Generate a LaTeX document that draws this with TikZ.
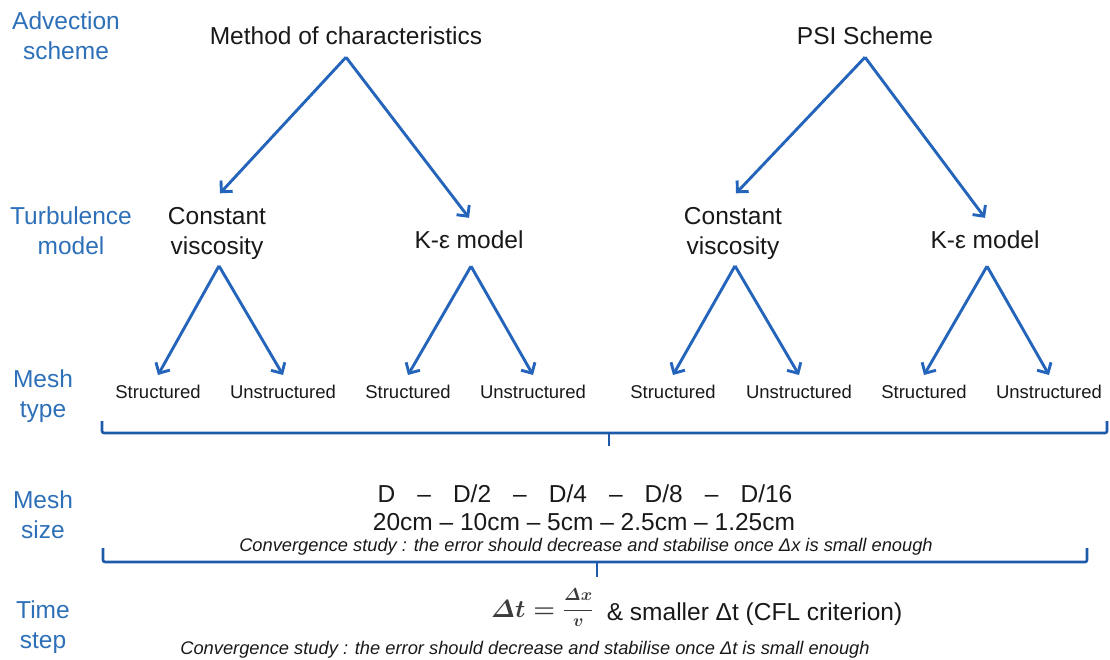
\documentclass[tikz,border=0pt]{standalone}
\usepackage{amsmath}
\usepackage{fontspec}
\setmainfont{Liberation Sans}
\usetikzlibrary{arrows.meta}
\definecolor{arrblue}{RGB}{36,100,186}
\definecolor{lblblue}{RGB}{46,112,184}
\definecolor{brblue}{RGB}{30,90,170}
\definecolor{txtblack}{RGB}{25,25,25}
\definecolor{mathgray}{RGB}{60,60,60}
\tikzstyle{rowlabel} = [text=lblblue, align=center, inner sep=0pt, font=\fontsize{24.5}{30}\selectfont]
\tikzstyle{branchnode} = [text=txtblack, align=center, inner sep=0pt, font=\fontsize{24.5}{30}\selectfont]
\tikzstyle{leafnode} = [text=txtblack, inner sep=0pt, font=\fontsize{18.5}{22}\selectfont]
\tikzstyle{notetext} = [text=txtblack, inner sep=0pt, font=\fontsize{18.3}{22}\selectfont\itshape]
\tikzstyle{branch} = [draw=arrblue, line width=2.9pt, -{Straight Barb[length=8pt,width=16pt]}]
\tikzstyle{bracketline} = [draw=brblue, line width=2.6pt, rounded corners=2pt]
\begin{document}
\begin{tikzpicture}[x=1pt,y=-1pt]
\useasboundingbox (0,0) rectangle (1110,660);

% Row labels
    \node[rowlabel] (adv) at (66,36) {Advection\\scheme};
    \node[rowlabel] (turb) at (71,231) {Turbulence\\model};
    \node[rowlabel] (mtype) at (43,396) {Mesh\\type};
    \node[rowlabel] (msize) at (43,515) {Mesh\\size};
    \node[rowlabel] (tstep) at (43,627) {Time\\step};

% Advection schemes and turbulence models
    \node[branchnode, anchor=base] (moc) at (346,44.8) {Method of characteristics};
    \node[branchnode, anchor=base] (psi) at (865,44.8) {PSI Scheme};
    \node[branchnode] (cv1) at (217,233.6) {Constant\\viscosity};
    \node[branchnode, anchor=base] (k1) at (469,248.8) {K-ε model};
    \node[branchnode] (cv2) at (733,233.6) {Constant\\viscosity};
    \node[branchnode, anchor=base] (k2) at (985,248.8) {K-ε model};

    \draw[branch] ([yshift=-12pt]moc.south) -- ([xshift=3pt,yshift=14pt]cv1.north);
    \draw[branch] ([yshift=-12pt]moc.south) -- ([yshift=13pt]k1.north);
    \draw[branch] ([yshift=-12pt]psi.south) -- ([xshift=3pt,yshift=14pt]cv2.north);
    \draw[branch] ([yshift=-12pt]psi.south) -- ([yshift=13pt]k2.north);

% Mesh types
    \foreach \x/\n/\t in {158/s1/Structured, 283/u1/Unstructured, 408/s2/Structured, 533/u2/Unstructured,
                          673/s3/Structured, 799/u3/Unstructured, 924/s4/Structured, 1049/u4/Unstructured} {
        \node[leafnode, anchor=base] (\n) at (\x,398.6) {\t};
    }
    \foreach \p/\c/\d in {cv1/s1/6, cv1/u1/6, k1/s2/17, k1/u2/17, cv2/s3/6, cv2/u3/6, k2/s4/17, k2/u4/17} {
        \draw[branch] ([xshift=2pt,yshift=-\d pt]\p.south) -- ([yshift=10pt]\c.north);
    }

% Brackets
    \draw[bracketline] (102,421) -- (102,433) -- (1107,433) -- (1107,421);
    \draw[bracketline] (609,433) -- (609,446);
    \draw[bracketline] (103,548) -- (103,562) -- (1087,562) -- (1087,548);
    \draw[bracketline] (597,562) -- (597,577);

% Mesh size
    \def\gap{\hspace{0.9em}}
    \node[branchnode, anchor=base] (dlist) at (585,502.8) {D\gap–\gap D/2\gap–\gap D/4\gap–\gap D/8\gap–\gap D/16};
    \node[branchnode, anchor=base] (cmlist) at (584,530.8) {20cm – 10cm – 5cm – 2.5cm – 1.25cm};
    \node[notetext, anchor=base] (conv1) at (586,551.5) {Convergence study : the error should decrease and stabilise once Δx is small enough};

% Time step
    \node[branchnode, anchor=base west] (dt) at (491,620) {\raisebox{3pt}{\textcolor{mathgray}{\boldmath$\varDelta t = \frac{\raisebox{6pt}{$\scriptstyle\varDelta x$}}{v}$}}\hspace{0.55em}\& smaller Δt (CFL criterion)};
    \node[notetext, anchor=base] (conv2) at (525,654) {Convergence study : the error should decrease and stabilise once Δt is small enough};

\end{tikzpicture}
\end{document}
